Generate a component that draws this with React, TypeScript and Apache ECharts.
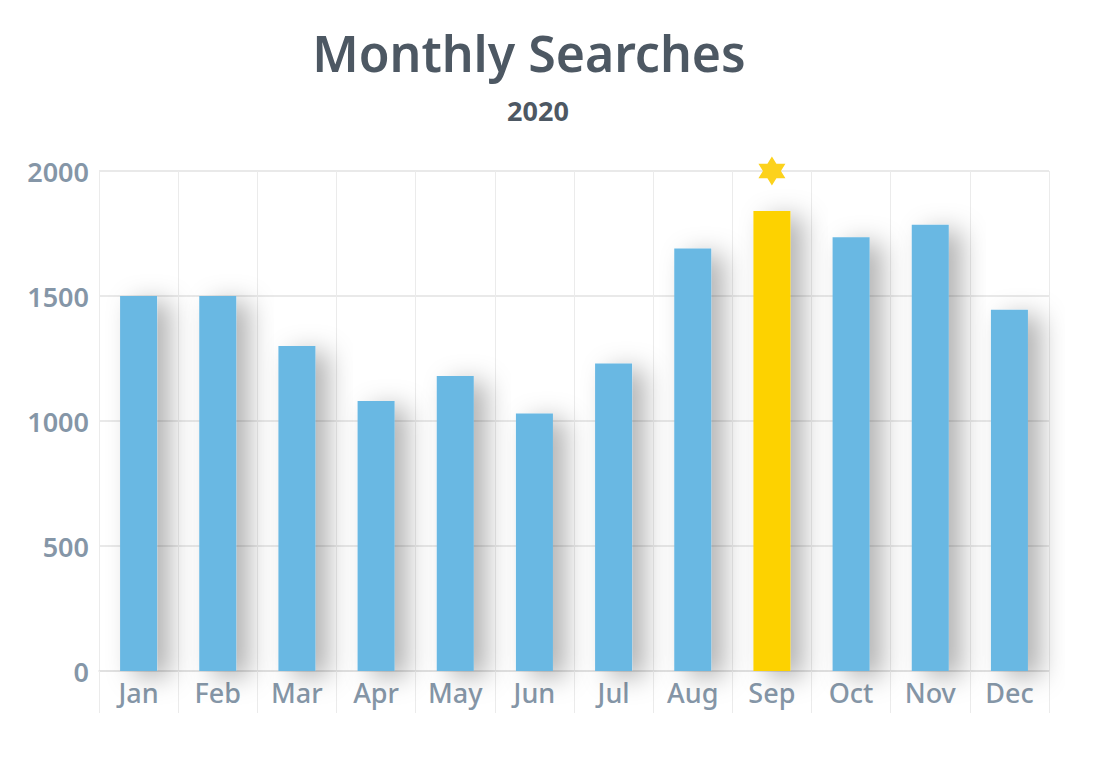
import React, { useEffect, useRef } from "react";
import * as echarts from "echarts";

const months = ["Jan", "Feb", "Mar", "Apr", "May", "Jun", "Jul", "Aug", "Sep", "Oct", "Nov", "Dec"];
const searches = [1500, 1500, 1300, 1080, 1180, 1030, 1230, 1690, 1840, 1735, 1785, 1445];
const highlightMonth = "Sep";
const yTicks = [0, 500, 1000, 1500, 2000];
const titleText = "Monthly Searches";
const subtitleText = "2020";

const BLUE = "#69B8E3";
const YELLOW = "#FDD200";
const LABEL = "#8596A7";
const TITLE = "#4D5863";
const FONT = "'Noto Sans', 'Open Sans', sans-serif";

const STAR =
  "path://M50 0 L64.43 25 L93.3 25 L78.87 50 L93.3 75 L64.43 75 L50 100 L35.57 75 L6.7 75 L21.13 50 L6.7 25 L35.57 25 Z";

export default function App() {
  const ref = useRef<HTMLDivElement>(null);
  useEffect(() => {
    if (!ref.current) return;
    const chart = echarts.init(ref.current, null, { renderer: "svg" });
    const maxTick = yTicks[yTicks.length - 1];
    chart.setOption({
      animation: false,
      backgroundColor: "#ffffff",
      graphic: [
        {
          type: "text",
          x: 529,
          y: 53,
          style: {
            text: titleText,
            fill: TITLE,
            font: `600 50px ${FONT}`,
            textAlign: "center",
            textVerticalAlign: "middle",
          },
        },
        {
          type: "text",
          x: 538,
          y: 110,
          style: {
            text: subtitleText,
            fill: TITLE,
            font: `700 27px ${FONT}`,
            textAlign: "center",
            textVerticalAlign: "middle",
          },
        },
      ],
      grid: { left: 99, right: 46, top: 171, bottom: 95, containLabel: false },
      xAxis: {
        type: "category",
        data: months,
        boundaryGap: true,
        axisLine: { show: true, lineStyle: { color: "#DEDEDE", width: 1.5 } },
        axisTick: { show: true, length: 42, lineStyle: { color: "#EBEBEB", width: 1 } },
        axisLabel: {
          color: LABEL,
          fontFamily: FONT,
          fontWeight: 500,
          fontSize: 27,
          margin: 8,
        },
        splitLine: { show: true, lineStyle: { color: "#EBEBEB", width: 1 } },
      },
      yAxis: {
        type: "value",
        min: 0,
        max: maxTick,
        interval: 500,
        axisLine: { show: true, lineStyle: { color: "#EBEBEB", width: 1 } },
        axisTick: { show: false },
        axisLabel: {
          color: LABEL,
          fontFamily: FONT,
          fontWeight: 600,
          fontSize: 27,
          margin: 10,
          formatter: (v: number) => String(v),
        },
        splitLine: { show: true, lineStyle: { color: "#E2E2E2", width: 1.5 } },
      },
      series: [
        {
          type: "bar",
          barWidth: 37,
          data: months.map((m, i) => ({
            value: searches[i],
            itemStyle: { color: m === highlightMonth ? YELLOW : BLUE },
          })),
          itemStyle: {
            shadowColor: "rgba(0,0,0,0.3)",
            shadowBlur: 26,
            shadowOffsetX: 13,
            shadowOffsetY: 6,
          },
          markPoint: {
            symbol: STAR,
            symbolSize: [27, 29],
            silent: true,
            itemStyle: { color: "#FCD21C", shadowBlur: 0, shadowOffsetX: 0, shadowOffsetY: 0 },
            label: { show: false },
            data: [{ coord: [highlightMonth, maxTick] }],
          },
        },
      ],
    });
    return () => chart.dispose();
  }, []);
  return (
    <div
      ref={ref}
      style={{ position: "fixed", left: 0, top: 0, width: 1095, height: 766 }}
    />
  );
}
